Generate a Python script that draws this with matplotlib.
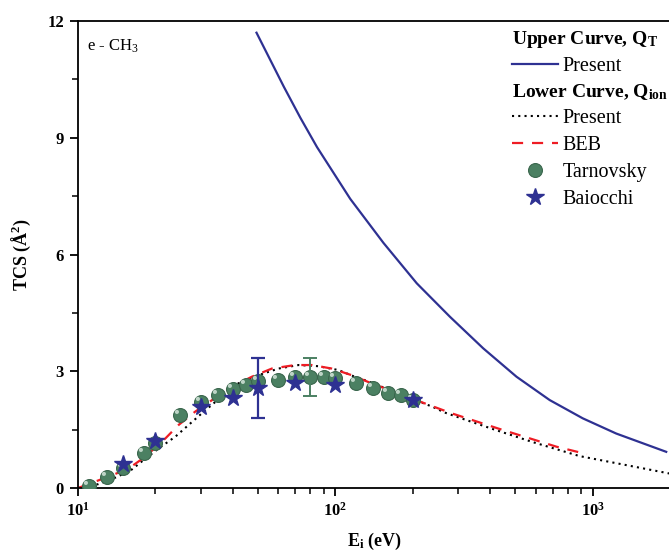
import numpy as np
import matplotlib
matplotlib.use('Agg')
from matplotlib import pyplot as plt
from matplotlib.path import Path
from matplotlib.lines import Line2D

plt.rcParams['font.family'] = ['Liberation Serif', 'DejaVu Serif']
plt.rcParams['mathtext.default'] = 'regular'

# total cross section, Q_T (present)
qt_E = [49.4, 63.1, 73.2, 84.9, 114.3, 153.8, 207.3, 279, 375.6, 506, 681, 916, 1235, 1932]
qt_Q = [11.70, 10.31, 9.51, 8.76, 7.43, 6.30, 5.26, 4.40, 3.59, 2.86, 2.26, 1.79, 1.40, 0.93]

# ionization cross section, Q_ion (present)
qion_E = [10, 12, 14, 16, 18, 20.6, 23.9, 26.9, 30.3, 34, 37.4, 42, 50.3, 60.2, 72, 86, 103,
          119, 133, 160, 198, 240, 266, 325, 416, 585, 890, 1300, 2000]
qion_Q = [0.0, 0.10, 0.27, 0.45, 0.72, 1.02, 1.32, 1.62, 1.92, 2.20, 2.43, 2.69, 2.90, 3.07, 3.16, 3.13, 3.03,
          2.86, 2.75, 2.54, 2.30, 2.08, 1.94, 1.74, 1.50, 1.18, 0.82, 0.61, 0.37]

# BEB
beb_E = [10, 11.5, 13.6, 15.8, 18.3, 21.9, 24.6, 28.5, 33.2, 38.5, 47.4, 56.7, 69.8, 81, 96.8,
         115.7, 138.3, 198, 283, 429, 507, 725, 950]
beb_Q = [0.0, 0.15, 0.33, 0.51, 0.81, 1.28, 1.62, 1.96, 2.26, 2.56, 2.86, 3.07, 3.16, 3.16, 3.07,
         2.90, 2.69, 2.30, 1.92, 1.53, 1.38, 1.06, 0.87]

# Tarnovsky et al.
tar_E = [11, 13, 15, 18, 20, 25, 30, 35, 40, 45, 50, 60, 70, 80, 90, 100, 120, 140, 160, 180, 200]
tar_Q = [0.05, 0.28, 0.52, 0.90, 1.15, 1.88, 2.20, 2.38, 2.54, 2.65, 2.74, 2.78, 2.84, 2.85, 2.85, 2.82,
         2.69, 2.57, 2.45, 2.38, 2.26]
tar_err_E = 80
tar_err_Q = 2.85
tar_err = 0.49

# Baiocchi et al.
bai_E = [15, 20, 30, 40, 50, 70, 100, 200]
bai_Q = [0.62, 1.21, 2.08, 2.31, 2.57, 2.70, 2.65, 2.26]
bai_err_E = 50
bai_err_Q = 2.57
bai_err = 0.77

navy = '#2e3192'
green = '#4b8062'
red = '#ee1c24'
dot_ls = (0, (1, 2))
dash_ls = (0, (5, 4))

fig = plt.figure(figsize=(6.69, 5.55), dpi=100)
ax = fig.add_axes([0.1166, 0.1207, 0.885, 0.8414])

ax.plot(qt_E, qt_Q, c=navy, lw=1.6, zorder=2)
ax.plot(qion_E, qion_Q, c='k', ls=dot_ls, lw=1.5, zorder=2)
ax.plot(beb_E, beb_Q, c=red, ls=dash_ls, lw=1.6, zorder=2)

# shaded spheres: body plus a small offset highlight
theta = np.linspace(0, 2 * np.pi, 40)
hl = np.column_stack([-0.26 + 0.15 * np.cos(theta), 0.26 + 0.15 * np.sin(theta)])
hl = np.vstack([hl, [[0.5, -0.5], [0.5, -0.5]]])
codes = [Path.MOVETO] + [Path.LINETO] * 39 + [Path.MOVETO, Path.MOVETO]
hl_marker = Path(hl, codes)

sphere = dict(ls='none', marker='o', ms=10, mfc=green, mec='#3a664d', mew=0.8)
ax.plot(tar_E, tar_Q, zorder=3, **sphere)
ax.plot(tar_E, tar_Q, ls='none', marker=hl_marker, ms=10, mfc='#dcebe1', mec='none', alpha=0.8, zorder=3)
ax.errorbar(tar_err_E, tar_err_Q, yerr=tar_err, fmt='none', ecolor=green, elinewidth=1.4,
            capsize=5, capthick=1.4, zorder=4)

star = dict(ls='none', marker='*', ms=13, mfc=navy, mec=navy)
ax.plot(bai_E, bai_Q, zorder=5, **star)
ax.errorbar(bai_err_E, bai_err_Q, yerr=bai_err, fmt='none', ecolor=navy, elinewidth=1.6,
            capsize=5, capthick=1.6, zorder=5)

ax.set_xscale('log')
ax.set_xlim(10, 2000)
ax.set_ylim(0, 12)
ax.set_yticks([0, 3, 6, 9, 12])
ax.set_yticks([1.5, 4.5, 7.5, 10.5], minor=True)

ax.spines['right'].set_visible(False)
for s in ['left', 'bottom', 'top']:
    ax.spines[s].set_linewidth(1.3)
ax.tick_params(which='major', direction='out', length=6, width=1.3, labelsize=12, pad=4)
ax.tick_params(which='minor', direction='out', length=4, width=1.1)
ax.tick_params(top=False, right=False, which='both')
for lab in ax.get_xticklabels() + ax.get_yticklabels():
    lab.set_fontweight('bold')

ax.set_xlabel('E$_i$ (eV)', fontsize=13, fontweight='bold', labelpad=8)
ax.set_ylabel('TCS (Å$^2$)', fontsize=13, fontweight='bold', labelpad=10)

ax.text(0.015, 0.965, 'e - CH$_3$', transform=ax.transAxes, fontsize=12, va='top', ha='left')

# legends: one block per curve group
leg_kw = dict(loc='upper left', frameon=False, fontsize=14.5, handlelength=2.3,
              handletextpad=0.2, alignment='left', borderpad=0, borderaxespad=0,
              labelspacing=0.38, title_fontproperties={'weight': 'bold', 'size': 14})

h_qt = [Line2D([], [], c=navy, lw=1.6)]
leg1 = ax.legend(h_qt, ['Present'], bbox_to_anchor=(0.733, 0.9835),
                 title='Upper Curve, Q$_T$', **leg_kw)
ax.add_artist(leg1)

h_ion = [Line2D([], [], c='k', ls=dot_ls, lw=1.5),
         Line2D([], [], c=red, ls=dash_ls, lw=1.6),
         Line2D([], [], **sphere),
         Line2D([], [], **star)]
leg2 = ax.legend(h_ion, ['Present', 'BEB', 'Tarnovsky', 'Baiocchi'],
                 bbox_to_anchor=(0.733, 0.870), title='Lower Curve, Q$_{ion}$', **leg_kw)

fig.savefig('out.png', dpi=100)
